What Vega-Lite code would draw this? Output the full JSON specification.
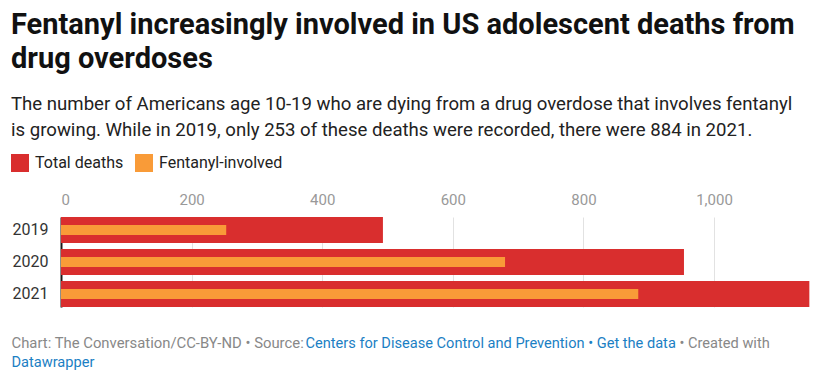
{
  "$schema": "https://vega.github.io/schema/vega-lite/v6.json",
  "width": 749,
  "height": 90,
  "autosize": {"type": "none"},
  "padding": {"left": 61, "top": 217, "right": 17, "bottom": 79},
  "background": "#ffffff",
  "title": {
    "text": ["Fentanyl increasingly involved in US adolescent deaths from", "drug overdoses"],
    "subtitle": ["The number of Americans age 10-19 who are dying from a drug overdose that involves fentanyl", "is growing. While in 2019, only 253 of these deaths were recorded, there were 884 in 2021."],
    "anchor": "start",
    "frame": "group",
    "dx": -50,
    "offset": 14,
    "font": "Roboto",
    "fontSize": 29,
    "fontWeight": "bold",
    "color": "#111111",
    "lineHeight": 34,
    "subtitleFont": "Roboto",
    "subtitleFontSize": 18.6,
    "subtitleLineHeight": 26,
    "subtitleColor": "#222222",
    "subtitlePadding": 21
  },
  "data": {
    "values": [
      {"year": "2019", "series": "Total deaths", "deaths": 493},
      {"year": "2020", "series": "Total deaths", "deaths": 954},
      {"year": "2021", "series": "Total deaths", "deaths": 1146},
      {"year": "2019", "series": "Fentanyl-involved", "deaths": 253},
      {"year": "2020", "series": "Fentanyl-involved", "deaths": 680},
      {"year": "2021", "series": "Fentanyl-involved", "deaths": 884}
    ]
  },
  "resolve": {"axis": {"x": "independent", "y": "independent"}},
  "layer": [
    {
      "transform": [{"filter": "datum.series === 'Total deaths'"}],
      "mark": {"type": "bar"},
      "encoding": {
        "y": {
          "field": "year",
          "type": "nominal",
          "scale": {"paddingInner": 0.1875, "paddingOuter": 0},
          "axis": {
            "orient": "left",
            "domain": true,
            "domainColor": "#1a1a1a",
            "domainWidth": 2,
            "ticks": false,
            "grid": false,
            "labelFont": "Roboto",
            "labelFontSize": 16,
            "labelColor": "#333333",
            "labelPadding": 13,
            "labelAlign": "right",
            "title": "• Created with",
            "titleAngle": 0,
            "titleX": 618,
            "titleY": 130,
            "titleAlign": "left",
            "titleBaseline": "alphabetic",
            "titleFont": "Roboto",
            "titleFontSize": 14.6,
            "titleFontWeight": "normal",
            "titleColor": "#888888"
          }
        },
        "x": {
          "field": "deaths",
          "type": "quantitative",
          "scale": {"domain": [0, 1147], "nice": false},
          "axis": {
            "orient": "top",
            "values": [0, 200, 400, 600, 800, 1000],
            "format": ",d",
            "domain": false,
            "ticks": false,
            "grid": true,
            "gridColor": "#e2e2e2",
            "gridWidth": 1,
            "labelFont": "Roboto",
            "labelFontSize": 15,
            "labelColor": "#999999",
            "labelPadding": 10,
            "title": "Chart: The Conversation/CC-BY-ND • Source:",
            "titleX": -50,
            "titleY": 130,
            "titleAlign": "left",
            "titleAnchor": null,
            "titleBaseline": "alphabetic",
            "titleFont": "Roboto",
            "titleFontSize": 14.85,
            "titleFontWeight": "normal",
            "titleColor": "#888888"
          }
        },
        "color": {
          "field": "series",
          "type": "nominal",
          "scale": {"domain": ["Total deaths", "Fentanyl-involved"], "range": ["#d92e2e", "#f99b38"]},
          "legend": {
            "title": null,
            "orient": "none",
            "legendX": -50,
            "legendY": -63,
            "direction": "horizontal",
            "symbolType": "square",
            "symbolSize": 324,
            "symbolStrokeWidth": 0,
            "symbolOpacity": 1,
            "labelFont": "Roboto",
            "labelFontSize": 16,
            "labelColor": "#222222",
            "labelOffset": 6,
            "columnPadding": 11,
            "padding": 0
          }
        }
      }
    },
    {
      "transform": [{"filter": "datum.series === 'Fentanyl-involved'"}],
      "mark": {"type": "bar", "size": 10},
      "encoding": {
        "y": {
          "field": "year",
          "type": "nominal",
          "axis": {
            "orient": "right",
            "domain": false,
            "ticks": false,
            "labels": false,
            "grid": false,
            "title": "Datawrapper",
            "titleAngle": 0,
            "titleX": -799,
            "titleY": 149,
            "titleAlign": "left",
            "titleBaseline": "alphabetic",
            "titleFont": "Roboto",
            "titleFontSize": 14.6,
            "titleFontWeight": "normal",
            "titleColor": "#1b80c4"
          }
        },
        "x": {
          "field": "deaths",
          "type": "quantitative",
          "axis": {
            "orient": "bottom",
            "domain": false,
            "ticks": false,
            "labels": false,
            "grid": false,
            "title": "Centers for Disease Control and Prevention • Get the data",
            "titleX": 244,
            "titleY": 40,
            "titleAlign": "left",
            "titleAnchor": null,
            "titleBaseline": "alphabetic",
            "titleFont": "Roboto",
            "titleFontSize": 14.6,
            "titleFontWeight": "normal",
            "titleColor": "#1b80c4"
          }
        },
        "color": {"field": "series", "type": "nominal"}
      }
    }
  ],
  "config": {
    "view": {"stroke": null},
    "font": "Roboto"
  }
}
